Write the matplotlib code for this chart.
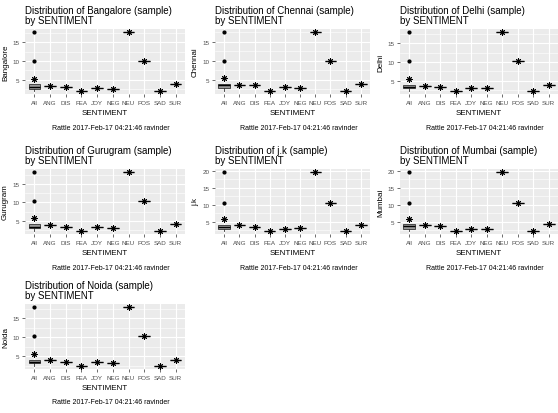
import numpy as np
import matplotlib.pyplot as plt
from matplotlib.ticker import MultipleLocator

plt.rcParams['font.family'] = ['Liberation Sans', 'DejaVu Sans']

sentiments = ['ANG', 'DIS', 'FEA', 'JOY', 'NEG', 'NEU', 'POS', 'SAD', 'SUR']

bangalore = [3.3, 3.1, 2.0, 2.8, 2.6, 17.8, 10.0, 2.0, 3.8]
chennai = [3.5, 3.5, 2.0, 3.0, 2.7, 17.6, 10.0, 2.0, 3.9]
delhi = [3.6, 3.4, 2.2, 3.0, 3.0, 18.1, 10.2, 2.2, 3.9]
gurugram = [3.8, 3.4, 2.2, 3.3, 3.1, 18.3, 10.3, 2.2, 4.0]
jk = [4.1, 3.5, 2.2, 2.8, 3.0, 19.7, 10.5, 2.2, 4.1]
mumbai = [4.1, 3.6, 2.2, 2.8, 2.9, 19.7, 10.5, 2.2, 4.3]
noida = [3.9, 3.6, 2.4, 3.4, 3.3, 18.0, 10.3, 2.4, 4.1]

cities = [('Bangalore', bangalore), ('Chennai', chennai), ('Delhi', delhi),
          ('Gurugram', gurugram), ('j.k', jk), ('Mumbai', mumbai),
          ('Noida', noida)]

caption = 'Rattle 2017-Feb-17 04:21:46 ravinder'

W, H = 558, 414
fig = plt.figure(figsize=(W / 100, H / 100), dpi=100)
fig.patch.set_facecolor('white')

# panel extents in pixels (left, right) per column and (top, bottom) per row
cols = [(25, 185), (215, 370), (400, 558)]
rows = [(30, 95), (170, 235), (305, 370)]

asterisk = (8, 2, 0)

for i, (name, vals) in enumerate(cities):
    l, r = cols[i % 3]
    t, b = rows[i // 3]
    ax = fig.add_axes([l / W, 1 - b / H, (r - l) / W, (b - t) / H])
    ax.set_facecolor('#EBEBEB')

    groups = [vals] + [[v] for v in vals]
    labels = ['All'] + sentiments
    pos = np.arange(1, len(groups) + 1)
    bp = ax.boxplot(groups, positions=pos, widths=0.75, patch_artist=True,
                    showcaps=False, showmeans=True,
                    medianprops=dict(color='black', lw=1.0),
                    boxprops=dict(edgecolor='#333333', lw=0.6),
                    whiskerprops=dict(color='#333333', lw=0.6),
                    flierprops=dict(marker='o', markersize=2,
                                    markerfacecolor='black',
                                    markeredgecolor='black'),
                    meanprops=dict(marker=asterisk, markersize=4.5,
                                   markeredgecolor='black',
                                   markerfacecolor='black', mew=0.7))
    for j, patch in enumerate(bp['boxes']):
        patch.set_facecolor('#999999' if j == 0 else 'white')

    lo = min(vals)
    hi = max(vals)
    span = hi - lo
    ax.set_ylim(lo - 0.05 * span, hi + 0.05 * span)
    ax.set_xlim(0.4, len(groups) + 0.6)

    ax.yaxis.set_major_locator(MultipleLocator(5))
    ax.yaxis.set_minor_locator(MultipleLocator(2.5))
    ax.grid(which='major', color='white', lw=0.8)
    ax.grid(which='minor', axis='y', color='white', lw=0.4)
    ax.set_axisbelow(True)
    for s in ax.spines.values():
        s.set_visible(False)

    ax.set_xticks(pos)
    ax.set_xticklabels(labels)
    ax.tick_params(axis='both', which='major', length=2, width=0.5,
                   color='#333333', labelsize=4.5, labelcolor='#4D4D4D', pad=2)
    ax.tick_params(axis='both', which='minor', length=0)

    ax.set_xlabel('SENTIMENT', fontsize=5.8, labelpad=3)
    ax.set_ylabel(name, fontsize=5.8, labelpad=2.5)

    ax.text(0.0, 1.06, 'Distribution of %s (sample)\nby SENTIMENT' % name,
            transform=ax.transAxes, ha='left', va='bottom', fontsize=7,
            linespacing=1.0)

    fig.text((l + r) / 2 / W + 6 / W, 1 - (b + 33) / H, caption,
             ha='center', va='center', fontsize=5)

fig.savefig('out.png', dpi=100)
